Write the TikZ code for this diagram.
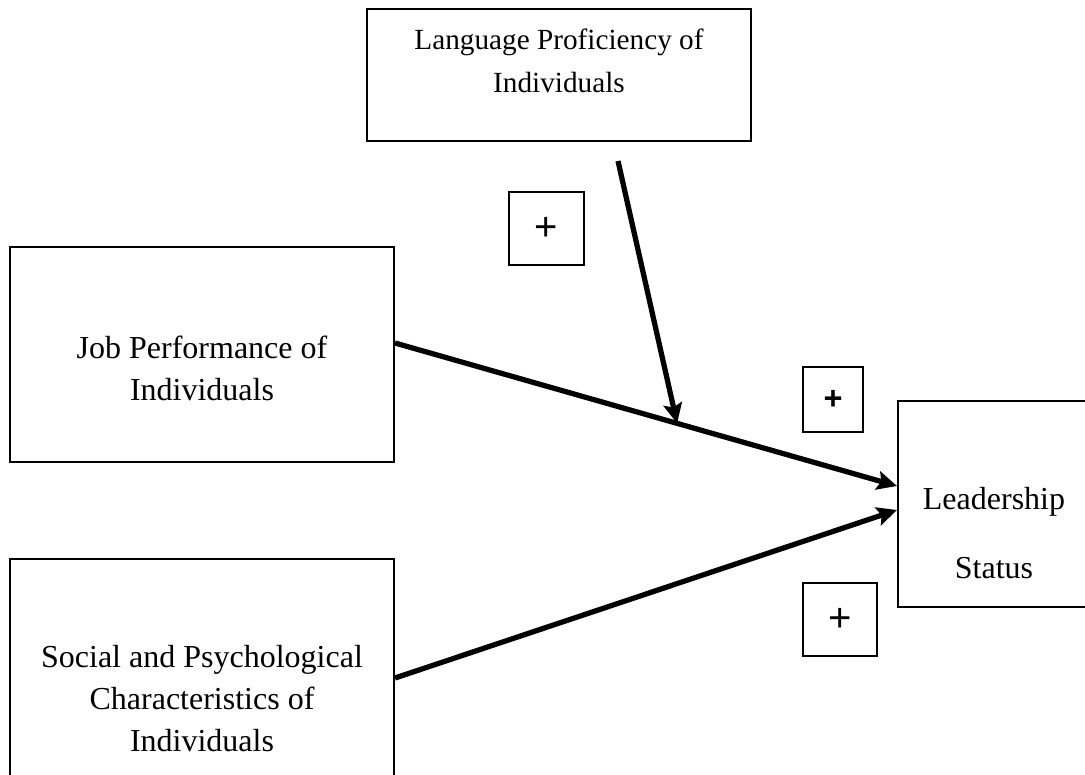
\documentclass[tikz,border=0pt]{standalone}
\usepackage{fontspec}
\setmainfont{Liberation Serif}
\newfontfamily\plusfont{Liberation Sans}
\usetikzlibrary{arrows.meta,calc}
\tikzset{>={Stealth[length=8pt,width=7.5pt,inset=1.5pt]}}

\begin{document}
\begin{tikzpicture}[x=0.4pt,y=-0.4pt,
  box/.style={draw,line width=0.8pt,inner sep=0pt},
  txt/.style={align=center,font=\fontsize{12.8}{16.8}\selectfont},
  sign/.style={draw,line width=0.8pt,inner sep=0pt,font=\plusfont\fontsize{16}{16}\selectfont},
  link/.style={->,line width=2.1pt}]
\useasboundingbox (0,0) rectangle (1085,774);
\clip (0,0) rectangle (1085,774);
\node[box,minimum width=153.6pt,minimum height=52.8pt,
  label={[txt,font=\fontsize{11.7}{17}\selectfont,yshift=5.6pt]center:Language Proficiency of\\Individuals}] (lang) at (559,75) {};
\node[box,minimum width=153.6pt,minimum height=86pt,
  label={[txt,yshift=-5.4pt]center:Job Performance of\\Individuals}] (job) at (202,354.5) {};
\node[box,minimum width=153.6pt,minimum height=112pt,
  label={[txt]center:Social and Psychological\\Characteristics of\\Individuals}] (soc) at (202,699) {};
\node[box,minimum width=76.8pt,minimum height=82.4pt,
  label={[txt,font=\fontsize{12.8}{27.6}\selectfont,yshift=-11.8pt]center:Leadership\\Status}] (lead) at (994,504) {};
\node[sign,minimum width=30pt,minimum height=29.2pt] (plusmod) at (546.5,228.5) {+};
\node[sign,minimum width=24pt,minimum height=26pt,font=\plusfont\bfseries\fontsize{13}{13}\selectfont] (plusjob) at (833,399.5) {+};
\node[sign,minimum width=29.6pt,minimum height=29.2pt] (plussoc) at (840,619.5) {+};
\coordinate (jobout) at ([yshift=4.6pt]job.east);
\coordinate (leadtop) at ([yshift=7.2pt]lead.west);
\coordinate (socout) at ([yshift=8.4pt]soc.east);
\coordinate (leadlow) at ([yshift=-2.4pt]lead.west);
\coordinate (modstart) at ([shift={(23.6pt,-7.6pt)}]lang.south);
\coordinate (modend) at ($(jobout)!0.562!(leadtop)$);
\draw[link] (jobout) -- (leadtop);
\draw[link] (socout) -- (leadlow);
\draw[link] (modstart) -- (modend);
\end{tikzpicture}
\end{document}
